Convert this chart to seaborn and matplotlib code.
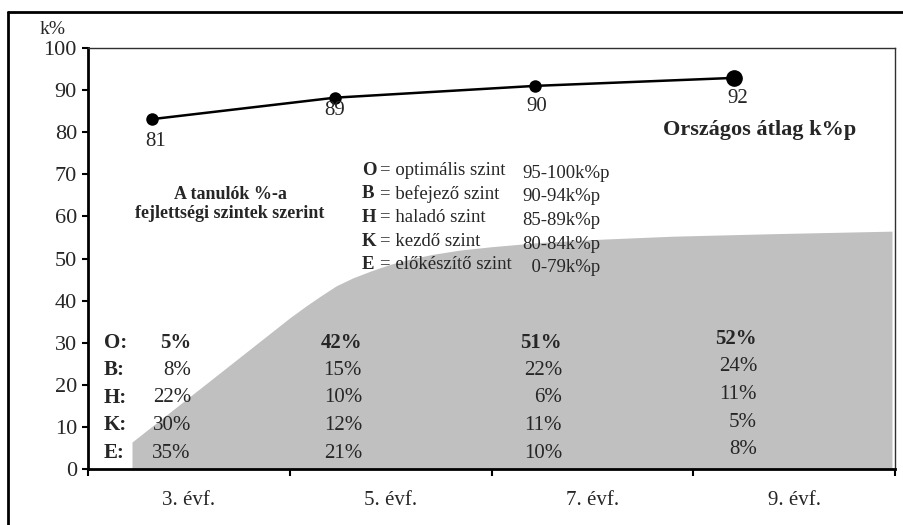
import matplotlib
matplotlib.use("Agg")
import matplotlib.pyplot as plt
from matplotlib.lines import Line2D
import seaborn as sns
import pandas as pd

# Országos átlag (k%p) – a pontok helye és a kiírt érték
atlag_x = [0.317, 1.224, 2.216, 3.202]
atlag_y = [83.1, 88.2, 91.0, 92.9]
atlag_felirat = ["81", "89", "90", "92"]

# Szürke terület (simított görbe leolvasott pontjai)
terulet_x = [0.218, 0.60, 1.00, 1.08, 1.15, 1.23, 1.313, 1.40, 1.497, 1.60, 1.71,
             1.844, 2.00, 2.24, 2.55, 2.90, 3.40, 3.985]
terulet_y = [6.4, 20.8, 35.9, 38.7, 41.0, 43.5, 45.4, 47.0, 48.6, 49.9, 51.0,
             52.0, 52.8, 53.8, 54.6, 55.3, 55.9, 56.5]

# Évfolyamok
evfolyamok = ["3. évf.", "5. évf.", "7. évf.", "9. évf."]

# Szintek szerinti megoszlás (%)
szint_betuk = ["O:", "B:", "H:", "K:", "E:"]
ev3 = ["5%", "8%", "22%", "30%", "35%"]
ev5 = ["42%", "15%", "10%", "12%", "21%"]
ev7 = ["51%", "22%", "6%", "11%", "10%"]
ev9 = ["52%", "24%", "11%", "5%", "8%"]

# Jelmagyarázat
jel_betuk = ["O", "B", "H", "K", "E"]
jel_nevek = ["= optimális szint", "= befejező szint", "= haladó szint", "= kezdő szint", "= előkészítő szint"]
jel_savok = ["95-100k%p", "90-94k%p", "85-89k%p", "80-84k%p", "  0-79k%p"]

sns.set_style("ticks")
plt.rcParams["font.family"] = ["Liberation Serif", "DejaVu Serif"]

fig = plt.figure(figsize=(9.04, 5.25), dpi=100)
ax = fig.add_axes([88 / 904, 1 - 469 / 525, (895 - 88) / 904, (469 - 48) / 525])

# szürke terület
ax.fill_between(terulet_x, 0, terulet_y, color="#c0c0c0", linewidth=0, zorder=1)

# átlag vonal
df = pd.DataFrame({"x": atlag_x, "y": atlag_y})
sns.lineplot(data=df, x="x", y="y", ax=ax, color="black", linewidth=1.8,
             marker="o", markersize=9, markeredgewidth=0, zorder=3)
ax.plot(atlag_x[-1:], atlag_y[-1:], "o", color="black", markersize=11, zorder=4)

felirat_eltolas = [(3, -16), (0, -9), (1, -15), (3, -15)]
for x, y, t, off in zip(atlag_x, atlag_y, atlag_felirat, felirat_eltolas):
    ax.annotate(t, (x, y), xytext=off, textcoords="offset points",
                ha="center", va="center", fontsize=15)

ax.text(3.331, 80.5, "Országos átlag k%p", ha="center", va="center",
        fontsize=16, fontweight="bold")

ax.text(0.704, 65.1, "A tanulók %-a", ha="center", va="center", fontsize=13, fontweight="bold")
ax.text(0.704, 60.6, "fejlettségi szintek szerint", ha="center", va="center",
        fontsize=13, fontweight="bold")

# jelmagyarázat
for i in range(len(jel_betuk)):
    y = 71.0 - i * 5.63
    ax.text(1.358, y, jel_betuk[i], ha="left", va="center", fontsize=13.5, fontweight="bold")
    ax.text(1.447, y, jel_nevek[i], ha="left", va="center", fontsize=13.5)
    ax.text(2.151, y - 0.7, jel_savok[i], ha="left", va="center", fontsize=13.5)

# táblázat
oszlop_x = [0.51, 1.358, 2.35, 3.316]
oszlop_dy = [0, 0, 0, 0.8]
for i in range(len(szint_betuk)):
    y = 30.0 - i * 6.55
    suly = "bold" if i == 0 else "normal"
    ax.text(0.079, y, szint_betuk[i], ha="left", va="center", fontsize=15, fontweight="bold")
    for j, oszlop in enumerate([ev3, ev5, ev7, ev9]):
        ax.text(oszlop_x[j], y + oszlop_dy[j], oszlop[i], ha="right", va="center",
                fontsize=15, fontweight=suly)

# tengelyek
ax.set_xlim(0, 4)
ax.set_ylim(0, 100)
ax.set_yticks(range(0, 101, 10))
ax.set_xticks([0, 1, 2, 3, 4])
ax.set_xticklabels([])
ax.set_xticks([0.5, 1.5, 2.5, 3.5], minor=True)
ax.set_xticklabels(evfolyamok, minor=True)
ax.tick_params(axis="x", which="major", direction="out", length=5, width=1.5, color="black")
ax.tick_params(axis="x", which="minor", length=0, pad=16, labelsize=15)
ax.tick_params(axis="y", direction="out", length=4, width=1.5, color="black", pad=4, labelsize=16)
ax.set_xlabel("")
ax.set_ylabel("")

for s in ["left", "bottom"]:
    ax.spines[s].set_linewidth(2)
    ax.spines[s].set_color("black")
for s in ["top", "right"]:
    ax.spines[s].set_visible(True)
    ax.spines[s].set_linewidth(1)
    ax.spines[s].set_color("#303030")

ax.text(-0.178, 104.3, "k%", ha="center", va="center", fontsize=14, clip_on=False)

# külső keret
fig.add_artist(Line2D([8 / 904, 8 / 904], [0, 1 - 12 / 525], transform=fig.transFigure,
                      color="black", linewidth=2))
fig.add_artist(Line2D([8 / 904, 1], [1 - 12 / 525, 1 - 12 / 525], transform=fig.transFigure,
                      color="black", linewidth=2))

fig.savefig("out.png", dpi=100, facecolor="white")
